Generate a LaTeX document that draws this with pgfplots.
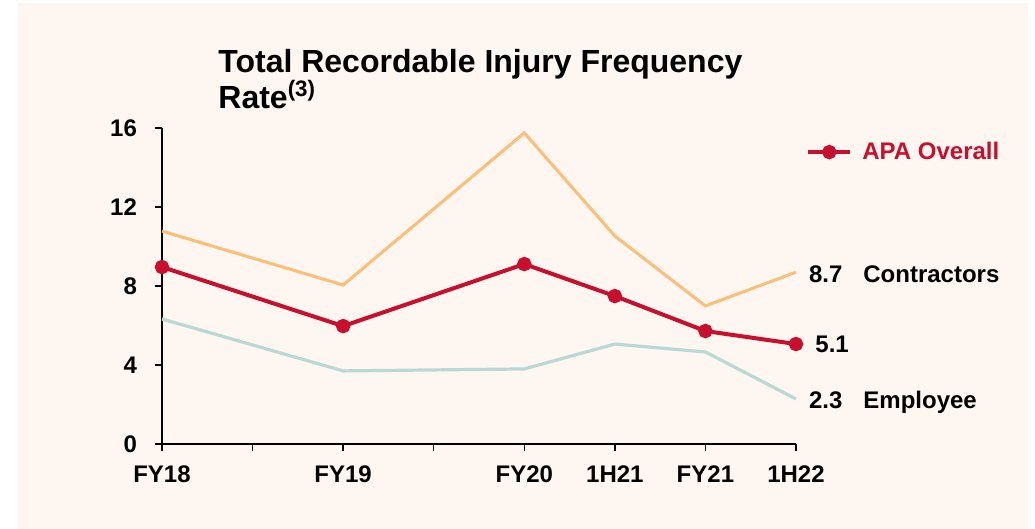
\documentclass[border=0pt]{standalone}
\usepackage{pgfplots}
\pgfplotsset{compat=1.18}
\usepackage{fontspec}
\setmainfont{Liberation Sans}
\definecolor{bgpanel}{RGB}{254,246,240}
\definecolor{apared}{RGB}{200,16,46}
\definecolor{contr}{RGB}{255,190,120}
\definecolor{empl}{RGB}{185,217,214}
\begin{document}
\begin{tikzpicture}
% 1 px of the reference = 0.5pt
\fill[white] (0,0) rectangle (517.5pt,264.5pt);
\fill[bgpanel] (9pt,0) rectangle (514pt,263pt);
\node[anchor=base west, inner sep=0pt, font=\fontsize{16}{18}\selectfont\bfseries]
  at (109pt,228pt) {Total Recordable Injury Frequency};
\node[anchor=base west, inner sep=0pt, font=\fontsize{16}{18}\selectfont\bfseries]
  at (109pt,210pt) {Rate\textsuperscript{(3)}};
\begin{axis}[
  at={(81pt,42.5pt)}, anchor=south west,
  scale only axis, width=317pt, height=158pt,
  xmin=0, xmax=7, ymin=0, ymax=16,
  axis x line*=bottom, axis y line*=left,
  axis line style={black, line width=0.75pt},
  tick style={black, line width=0.75pt},
  tick align=outside, major tick length=3.5pt,
  xtick={0,1,2,3,4,5,6,7},
  xticklabels={FY18,,FY19,,FY20,1H21,FY21,1H22},
  ytick={0,4,8,12,16},
  /pgf/number format/assume math mode=true,
  tick label style={font=\fontsize{12}{14}\selectfont\bfseries},
  xticklabel style={yshift=-4pt},
  yticklabel style={xshift=-5.5pt},
  clip=false,
  legend style={at={(axis cs:7.11,14.78)}, anchor=west, draw=none, fill=none,
    inner sep=0pt, font=\fontsize{12}{14}\selectfont\bfseries, text=apared,
    /tikz/every odd column/.append style={column sep=3pt}},
  legend image code/.code={\draw[mark repeat=2, mark phase=2, #1]
    plot coordinates {(0pt,0pt) (10.5pt,0pt) (21pt,0pt)};},
]
\addplot[contr, line width=1.5pt, mark=none, forget plot] coordinates {
  (0,10.78) (2,8.05) (4,15.75) (5,10.53) (6,6.99) (7,8.7)
};
\addplot[empl, line width=1.6pt, mark=none, forget plot] coordinates {
  (0,6.33) (2,3.70) (4,3.80) (5,5.06) (6,4.66) (7,2.28)
};
\addplot[apared, line width=2pt, mark=*, mark size=2.6pt] coordinates {
  (0,8.96) (2,5.97) (4,9.11) (5,7.49) (6,5.72) (7,5.06)
};
\addlegendentry{APA Overall}
\node[anchor=base west, inner sep=0pt, font=\fontsize{12}{14}\selectfont\bfseries] at (axis cs:7.14,8.20) {8.7};
\node[anchor=base west, inner sep=0pt, font=\fontsize{12}{14}\selectfont\bfseries] at (axis cs:7.74,8.20) {Contractors};
\node[anchor=base west, inner sep=0pt, font=\fontsize{12}{14}\selectfont\bfseries] at (axis cs:7.21,4.61) {5.1};
\node[anchor=base west, inner sep=0pt, font=\fontsize{12}{14}\selectfont\bfseries] at (axis cs:7.14,1.82) {2.3};
\node[anchor=base west, inner sep=0pt, font=\fontsize{12}{14}\selectfont\bfseries] at (axis cs:7.74,1.82) {Employee};
\end{axis}
\end{tikzpicture}
\end{document}
